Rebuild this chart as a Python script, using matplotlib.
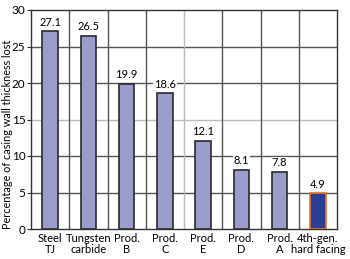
import numpy as np
import matplotlib.pyplot as plt

plt.rcParams['font.family'] = ['Lato', 'DejaVu Sans']
plt.rcParams['font.size'] = 8

categories = ['Steel\nTJ', 'Tungsten\ncarbide', 'Prod.\nB', 'Prod.\nC',
              'Prod.\nE', 'Prod.\nD', 'Prod.\nA', '4th-gen.\nhard facing']
values = [27.1, 26.5, 19.9, 18.6, 12.1, 8.1, 7.8, 4.9]
yticks = [0, 5, 10, 15, 20, 25, 30]

fig = plt.figure(figsize=(3.5, 2.59), dpi=100)
ax = fig.add_axes([31/350, 30/259, 306/350, 219/259])

x = np.arange(len(values))
colors = ['#9a9dcc'] * 7 + ['#2e3d96']
edges = ['#2a2a2a'] * 7 + ['#e8761f']
bars = ax.bar(x, values, width=0.4, color=colors, edgecolor=edges, linewidth=1.2, zorder=3)

# grid: horizontal and category boundaries
for v in yticks[1:-1]:
    c = '#bbbbbb' if v == 15 else '#555555'
    ax.axhline(v, color=c, lw=1.0, zorder=1)
for b in np.arange(0.5, len(values) - 1, 1):
    c = '#bbbbbb' if b == 3.5 else '#555555'
    ax.axvline(b, color=c, lw=1.0, zorder=1)

for xi, v in zip(x, values):
    ax.text(xi, v + 0.5, f'{v}', ha='center', va='bottom', fontsize=8,
            bbox=dict(facecolor='white', edgecolor='none', pad=0.5), zorder=4)

ax.set_xlim(-0.5, len(values) - 0.5)
ax.set_ylim(0, 30)
ax.set_yticks(yticks)
ax.set_yticklabels([str(t) for t in yticks], fontsize=8.5)
ax.set_xticks(x)
ax.set_xticklabels(categories, linespacing=1.0)
ax.tick_params(axis='x', length=0, pad=3)
ax.tick_params(axis='y', length=3, pad=1, color='#333333')
fig.text(7.5/350, 0.48, 'Percentage of casing wall thickness lost', rotation=90,
         ha='center', va='center', fontsize=7.8)
for s in ax.spines.values():
    s.set_color('#333333')
    s.set_linewidth(1.0)

fig.savefig('out.png', dpi=100)
